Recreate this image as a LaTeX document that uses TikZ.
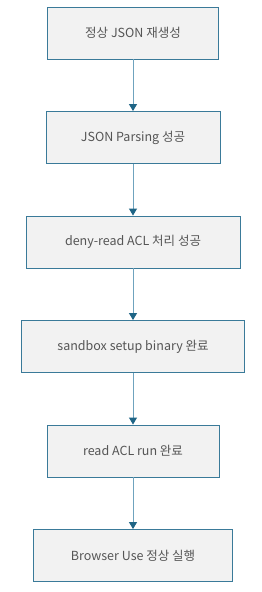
\documentclass[tikz,border=0pt]{standalone}
\usepackage{fontspec}
\setmainfont{Noto Sans CJK KR}
\usetikzlibrary{arrows.meta}
\definecolor{boxfill}{HTML}{F2F2F2}
\definecolor{boxline}{HTML}{3A7A99}
\definecolor{arrline}{HTML}{6FA3BE}
\definecolor{arrhead}{HTML}{1F6586}
\definecolor{txt}{HTML}{555555}
\begin{document}
\begin{tikzpicture}[x=1pt,y=1pt,
  stepbox/.style={draw=boxline, line width=0.9pt, fill=boxfill, minimum height=52pt, text=txt, font=\fontsize{12.5pt}{14pt}\selectfont, inner sep=0pt},
  flow/.style={draw=arrline, line width=1pt, -{Triangle[length=7pt,width=8pt,color=arrhead]}}]
\useasboundingbox (0,0) rectangle (262,-592);
\fill[white] (0,0) rectangle (262,-592);
\node[stepbox, minimum width=171pt] (a) at (133,-33) {정상 JSON 재생성};
\node[stepbox, minimum width=174pt] (b) at (133,-137.5) {JSON Parsing 성공};
\node[stepbox, minimum width=214pt] (c) at (133,-242) {deny-read ACL 처리 성공};
\node[stepbox, minimum width=223pt] (d) at (133,-346.5) {sandbox setup binary 완료};
\node[stepbox, minimum width=172pt] (e) at (133,-451) {read ACL run 완료};
\node[stepbox, minimum width=199pt] (f) at (133,-555.5) {Browser Use 정상 실행};
\draw[flow] (a) -- (b);
\draw[flow] (b) -- (c);
\draw[flow] (c) -- (d);
\draw[flow] (d) -- (e);
\draw[flow] (e) -- (f);
\end{tikzpicture}
\end{document}
